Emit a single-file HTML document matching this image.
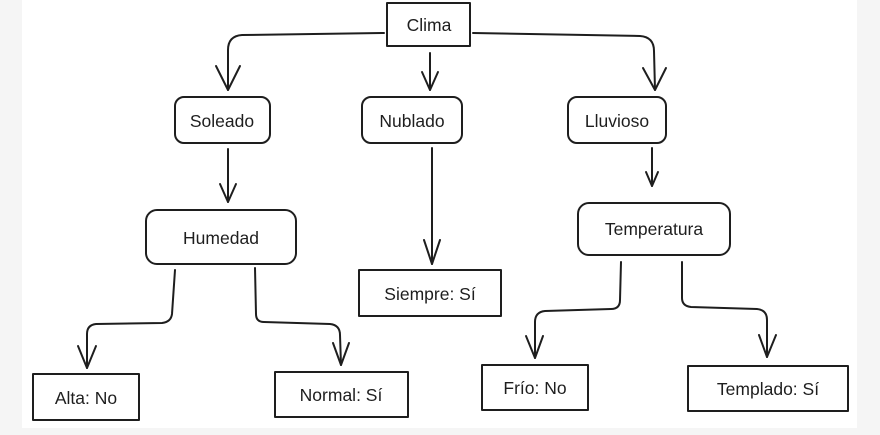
<!DOCTYPE html>
<html><head><meta charset="utf-8"><style>
html,body{margin:0;padding:0;background:#f5f5f5;width:880px;height:435px;overflow:hidden}
svg{display:block}
text{font-family:"Liberation Sans",sans-serif;font-size:17.5px;fill:#1e1e1e;text-anchor:middle;dominant-baseline:central}
</style></head><body>
<svg width="880" height="435" viewBox="0 0 880 435">
<rect x="22" y="0" width="835" height="428" fill="#fff"/>
<g fill="none" stroke="#1e1e1e" stroke-width="2" stroke-linecap="round" stroke-linejoin="round">
<rect x="387" y="3" width="83" height="43"/>
<rect x="175" y="97" width="95" height="46" rx="9"/>
<rect x="362" y="97" width="100" height="46" rx="9"/>
<rect x="568" y="97" width="98" height="46" rx="9"/>
<rect x="146" y="210" width="150" height="54" rx="11"/>
<rect x="359" y="270" width="142" height="46"/>
<rect x="578" y="203" width="152" height="52" rx="11"/>
<rect x="33" y="374" width="106" height="46"/>
<rect x="275" y="372" width="133" height="45"/>
<rect x="482" y="365" width="106" height="45"/>
<rect x="688" y="366" width="160" height="45"/>
<path d="M384 33 L242 35 Q228 36 228 50 L228 90"/>
<path d="M216 66 L228 90 L240 66"/>
<path d="M473 33 L640 36 Q654 37 654 51 L655 90"/>
<path d="M643 68 L655 90 L666 68"/>
<path d="M430 53 L430 90"/><path d="M422 72 L430 90 L438 72"/>
<path d="M228 149 L228 202"/><path d="M220 184 L228 202 L236 184"/>
<path d="M432 148 L432 264"/><path d="M424 240 L432 264 L440 240"/>
<path d="M652 148 L652 186"/><path d="M646 172 L652 186 L658 172"/>
<path d="M175 270 L172 314 Q171 322 162 323 L96 324 Q87 325 87 334 L87 368"/>
<path d="M78 346 L87 368 L96 346"/>
<path d="M255 268 L256 314 Q256 322 264 322 L330 324 Q340 325 340 335 L341 365"/>
<path d="M333 343 L341 365 L349 343"/>
<path d="M621 262 L620 300 Q620 309 611 309 L545 311 Q535 312 535 322 L535 358"/>
<path d="M526 336 L535 358 L543 336"/>
<path d="M682 262 L682 298 Q682 306 691 307 L757 309 Q767 310 767 320 L767 357"/>
<path d="M759 335 L767 357 L776 335"/>
</g>
<text x="429" y="25">Clima</text>
<text x="222" y="121">Soleado</text>
<text x="412" y="121">Nublado</text>
<text x="617" y="121">Lluvioso</text>
<text x="221" y="238">Humedad</text>
<text x="430" y="294">Siempre: Sí</text>
<text x="654" y="229">Temperatura</text>
<text x="86" y="398">Alta: No</text>
<text x="341" y="395">Normal: Sí</text>
<text x="535" y="388">Frío: No</text>
<text x="768" y="389">Templado: Sí</text>
</svg>
</body></html>
